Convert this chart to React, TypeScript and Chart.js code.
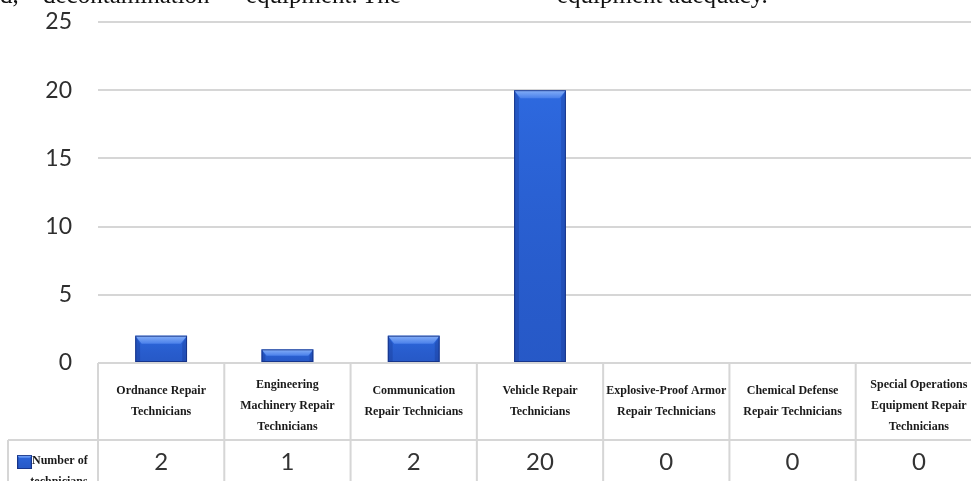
import React, { useEffect, useRef } from "react";
import { Chart, registerables } from "chart.js";

Chart.register(...registerables);

// ---- data ----
const categories: string[][] = [
  ["Ordnance Repair", "Technicians"],
  ["Engineering", "Machinery Repair", "Technicians"],
  ["Communication", "Repair Technicians"],
  ["Vehicle Repair", "Technicians"],
  ["Explosive-Proof Armor", "Repair Technicians"],
  ["Chemical Defense", "Repair Technicians"],
  ["Special Operations", "Equipment Repair", "Technicians"],
];
const technicians: number[] = [2, 1, 2, 20, 0, 0, 0];
const seriesLabel: string[] = ["Number of", "technicians"];
const yTicks: number[] = [0, 5, 10, 15, 20, 25];
const headerWords: string[] = ["d,", "decontamination", "equipment.", "The", "equipment adequacy."];
const headerX: number[] = [0, 43, 246, 362, 557];

const BLUE = "#2c64d8";
const GRID = "#d6d6d6";

function bevelBox(ctx: CanvasRenderingContext2D, left: number, top: number, right: number, bottom: number, bev: number) {
  const w = right - left;
  const h = bottom - top;
  if (h <= 0 || w <= 0) return;
  const b = Math.min(bev, h / 2, w / 2);
  ctx.save();
  ctx.fillStyle = BLUE;
  ctx.fillRect(left, top, w, h);
  const g = ctx.createLinearGradient(0, top, 0, bottom);
  g.addColorStop(0, "rgba(50,120,245,0.25)");
  g.addColorStop(1, "rgba(10,30,110,0.16)");
  ctx.fillStyle = g;
  ctx.fillRect(left, top, w, h);
  ctx.fillStyle = "rgba(15,40,120,0.25)";
  ctx.beginPath();
  ctx.moveTo(left, top);
  ctx.lineTo(left + b * 0.6, top + b);
  ctx.lineTo(left + b * 0.6, bottom);
  ctx.lineTo(left, bottom);
  ctx.closePath();
  ctx.fill();
  ctx.beginPath();
  ctx.moveTo(right, top);
  ctx.lineTo(right - b * 0.6, top + b);
  ctx.lineTo(right - b * 0.6, bottom);
  ctx.lineTo(right, bottom);
  ctx.closePath();
  ctx.fill();
  const tg = ctx.createLinearGradient(0, top, 0, top + b);
  tg.addColorStop(0, "#86b0f8");
  tg.addColorStop(1, "#4a80ea");
  ctx.fillStyle = tg;
  ctx.beginPath();
  ctx.moveTo(left, top);
  ctx.lineTo(right, top);
  ctx.lineTo(right - b * 0.8, top + b);
  ctx.lineTo(left + b * 0.8, top + b);
  ctx.closePath();
  ctx.fill();
  ctx.strokeStyle = "rgba(20,45,125,0.8)";
  ctx.lineWidth = 1;
  ctx.strokeRect(left + 0.5, top + 0.5, w - 1, h - 1);
  ctx.restore();
}

const bevelPlugin = {
  id: "bevelBars",
  afterDatasetsDraw(chart: any) {
    const ctx = chart.ctx as CanvasRenderingContext2D;
    const meta = chart.getDatasetMeta(0);
    meta.data.forEach((el: any) => {
      const p = el.getProps(["x", "y", "base", "width"], true);
      const left = p.x - p.width / 2;
      const right = p.x + p.width / 2;
      const top = Math.min(p.y, p.base);
      const bottom = Math.max(p.y, p.base);
      bevelBox(ctx, left, top, right, bottom, 8);
    });
  },
};

const tablePlugin = {
  id: "dataTable",
  afterDraw(chart: any) {
    const ctx = chart.ctx as CanvasRenderingContext2D;
    const area = chart.chartArea;
    const n = categories.length;
    const colW = (area.right - area.left) / n;
    const rowTop = area.bottom;
    const rowMid = area.bottom + 77;
    const rowBottom = chart.height + 20;
    const legendLeft = 8;

    ctx.save();
    ctx.strokeStyle = GRID;
    ctx.lineWidth = 2;
    ctx.beginPath();
    ctx.moveTo(area.left, rowTop);
    ctx.lineTo(area.right, rowTop);
    ctx.moveTo(legendLeft, rowMid);
    ctx.lineTo(area.right, rowMid);
    for (let k = 0; k <= n; k++) {
      const x = area.left + k * colW;
      ctx.moveTo(x, rowTop);
      ctx.lineTo(x, rowBottom);
    }
    ctx.moveTo(legendLeft, rowMid);
    ctx.lineTo(legendLeft, rowBottom);
    ctx.stroke();

    ctx.fillStyle = "#1a1a1a";
    ctx.font = "bold 12px 'Liberation Serif', 'DejaVu Serif', serif";
    ctx.textAlign = "center";
    ctx.textBaseline = "middle";
    const lh = 21;
    categories.forEach((lines, i) => {
      const cx = chart.scales.x.getPixelForValue(i);
      const cy = (rowTop + rowMid) / 2 + (lines.length === 3 ? 4 : 0);
      const y0 = cy - ((lines.length - 1) * lh) / 2;
      lines.forEach((t, j) => ctx.fillText(t, cx, y0 + j * lh));
    });

    ctx.fillStyle = "#333333";
    ctx.font = "24px Lato, 'Noto Sans', sans-serif";
    technicians.forEach((v, i) => {
      const cx = chart.scales.x.getPixelForValue(i);
      ctx.fillText(String(v), cx, rowMid + 22);
    });

    bevelBox(ctx, 17, 455, 32, 469, 3);
    ctx.fillStyle = "#1a1a1a";
    ctx.font = "bold 12px 'Liberation Serif', 'DejaVu Serif', serif";
    ctx.textAlign = "left";
    ctx.fillText(seriesLabel[0], 32, rowMid + 21);
    ctx.textAlign = "center";
    ctx.fillText(seriesLabel[1], 59, rowMid + 42);

    ctx.fillStyle = "#111";
    ctx.font = "25px 'Liberation Serif', serif";
    ctx.textAlign = "left";
    ctx.textBaseline = "alphabetic";
    headerWords.forEach((w, i) => ctx.fillText(w, headerX[i], 3));
    ctx.restore();
  },
};

export default function App() {
  const ref = useRef<HTMLCanvasElement | null>(null);

  useEffect(() => {
    document.body.style.margin = "0";
    const canvas = ref.current;
    if (!canvas) return;
    const chart = new Chart(canvas, {
      type: "bar",
      data: {
        labels: categories,
        datasets: [
          {
            label: seriesLabel.join(" "),
            data: technicians,
            backgroundColor: "rgba(0,0,0,0)",
            borderWidth: 0,
            barPercentage: 0.41,
            categoryPercentage: 1,
          },
        ],
      },
      options: {
        responsive: false,
        animation: false,
        devicePixelRatio: 1,
        layout: { padding: { top: 22, right: 8, bottom: 118, left: 0 } },
        plugins: { legend: { display: false }, tooltip: { enabled: false } },
        scales: {
          x: { display: false },
          y: {
            min: yTicks[0],
            max: yTicks[yTicks.length - 1],
            afterBuildTicks: (scale: any) => {
              scale.ticks = yTicks.map((v) => ({ value: v }));
            },
            afterFit: (scale: any) => {
              scale.width = 98;
            },
            grid: {
              color: GRID,
              lineWidth: 2,
              drawTicks: true,
              tickLength: 26,
              tickColor: "rgba(0,0,0,0)",
            },
            border: { display: false },
            ticks: {
              padding: 0,
              color: "#2e2e2e",
              font: { family: "Lato, 'Noto Sans', sans-serif", size: 23 },
            },
          },
        },
      },
      plugins: [bevelPlugin, tablePlugin],
    });
    return () => chart.destroy();
  }, []);

  return (
    <div style={{ position: "relative", width: 971, height: 481, overflow: "hidden", background: "#fff" }}>
      <canvas ref={ref} width={990} height={481} style={{ display: "block", width: 990, height: 481 }} />
    </div>
  );
}
